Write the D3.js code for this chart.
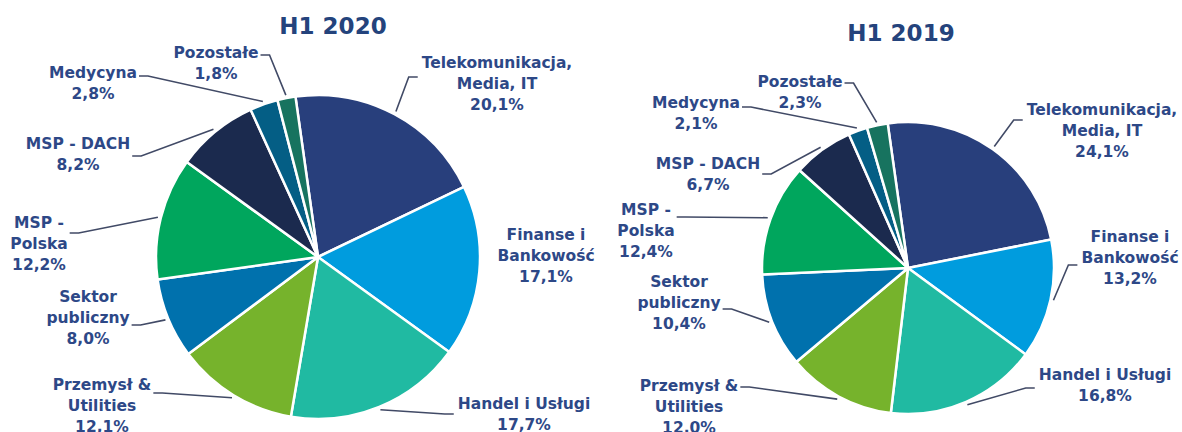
<!DOCTYPE html>
<html>
<head>
<meta charset="utf-8">
<script src="https://cdn.jsdelivr.net/npm/d3@7"></script>
<style>
  body { margin: 0; background: #fff; }
  svg { display: block; }
  text { font-family: "DejaVu Sans", Verdana, sans-serif; font-weight: bold; fill: #2d4887; }
</style>
</head>
<body>
<svg width="1182" height="432"></svg>
<script>
let width = 1182;
let height = 432;

// data
const categories = ['Telekomunikacja, Media, IT', 'Finanse i Bankowość', 'Handel i Usługi',
  'Przemysł & Utilities', 'Sektor publiczny', 'MSP - Polska', 'MSP - DACH', 'Medycyna', 'Pozostałe'];
const categoryLines = [
  ['Telekomunikacja,', 'Media, IT'], ['Finanse i', 'Bankowość'], ['Handel i Usługi'],
  ['Przemysł &', 'Utilities'], ['Sektor', 'publiczny'], ['MSP -', 'Polska'],
  ['MSP - DACH'], ['Medycyna'], ['Pozostałe']];
const values2020 = [20.1, 17.1, 17.7, 12.1, 8.0, 12.2, 8.2, 2.8, 1.8];
const values2019 = [24.1, 13.2, 16.8, 12.0, 10.4, 12.4, 6.7, 2.1, 2.3];
const titles = ['H1 2020', 'H1 2019'];

const colors = ['#283f7c', '#009cde', '#20baa2', '#76b32c', '#0071ad',
  '#00a65d', '#1b2a4e', '#045e85', '#17735f'];

// label placement relative to pie centre: [dx, dy (first baseline), stub y offset or null]
const layouts = [
  { cx: 318, cy: 257, r: 162, tx: 333, ty: 34, values: values2020, labels: [
    [179, -189, 9], [228, -17, null], [206, 152, 5], [-216, 133, 3], [-230, 45, 23],
    [-279, -29, 5], [-240, -108, 7], [-225, -179, -2], [-102, -199, -3]] },
  { cx: 908, cy: 268, r: 146, tx: 901, ty: 41, values: values2019, labels: [
    [194, -153, 5], [222, -26, 23], [197, 112, 8], [-219, 123, -4], [-229, 19, 22],
    [-262, -53, 2], [-200, -99, 5], [-212, -160, -1], [-108, -181, -4]] }
];

const fmt = v => d3.format('.1f')(v).replace('.', ',') + '%';
const deg = Math.PI / 180;
const lineH = 21;

const svg = d3.select('svg');

layouts.forEach((L, k) => {
  let pie = d3.pie().sort(null).startAngle(-8 * deg).endAngle(352 * deg);
  let arcs = pie(L.values);
  let arc = d3.arc().innerRadius(0).outerRadius(L.r);

  let g = svg.append('g').attr('transform', `translate(${L.cx},${L.cy})`);

  svg.append('text')
    .attr('x', L.tx)
    .attr('y', L.ty)
    .attr('text-anchor', 'middle')
    .style('font-size', '23px')
    .style('fill', '#24437c')
    .text(titles[k]);

  g.selectAll('path.slice')
    .data(arcs)
    .enter()
      .append('path')
      .attr('class', 'slice')
      .attr('d', arc)
      .attr('fill', (d, i) => colors[i])
      .attr('stroke', '#fff')
      .attr('stroke-width', 2.5)
      .attr('stroke-linejoin', 'round')
  ;

  let labels = g.selectAll('g.label')
    .data(arcs)
    .enter()
      .append('g')
      .attr('class', 'label')
  ;

  labels.each(function(d, i) {
    let pos = L.labels[i];
    let t = d3.select(this).append('text')
      .attr('text-anchor', 'middle')
      .style('font-size', '15.5px');
    let lines = categoryLines[i].concat([fmt(L.values[i])]);
    lines.forEach((s, j) => {
      t.append('tspan')
        .attr('x', pos[0])
        .attr('y', pos[1] + j * lineH)
        .text(s);
    });

    if (pos[2] === null) return;
    let bb = t.node().getBBox();
    let mid = (d.startAngle + d.endAngle) / 2;
    let px = Math.sin(mid) * (L.r + 3);
    let py = -Math.cos(mid) * (L.r + 3);
    let left = px > pos[0];
    let sx = left ? bb.x + bb.width + 2 : bb.x - 4;
    let sy = pos[1] + pos[2];
    let ex = left ? sx + 9 : sx - 9;
    d3.select(this).append('path')
      .attr('d', `M${sx},${sy}L${ex},${sy}L${px},${py}`)
      .attr('fill', 'none')
      .attr('stroke', '#414a66')
      .attr('stroke-width', 1.6)
    ;
  });
});
</script>
</body>
</html>
